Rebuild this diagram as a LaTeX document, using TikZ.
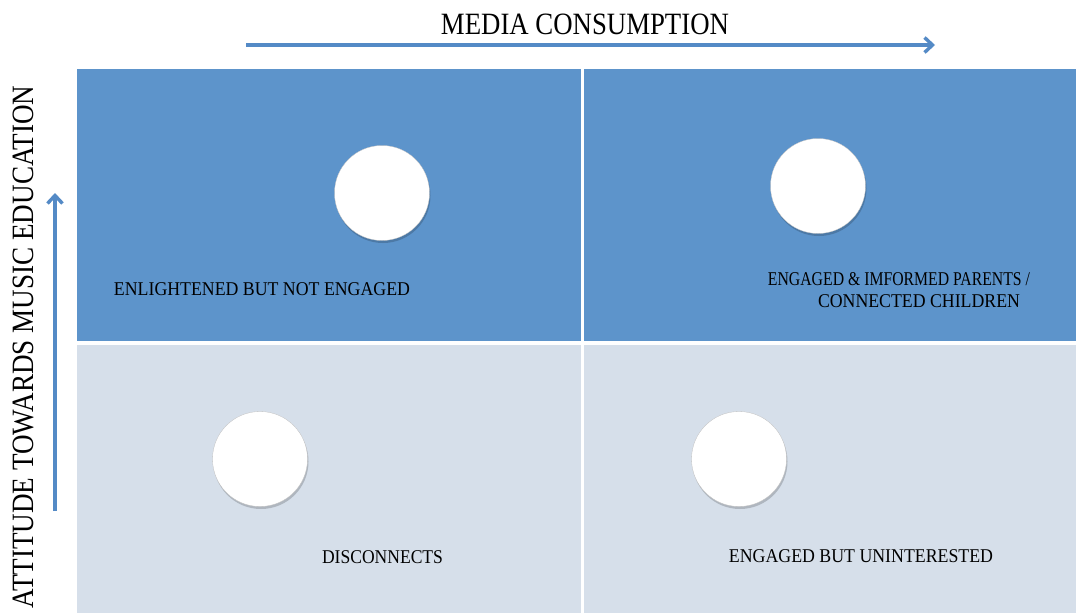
\documentclass[tikz,border=0pt]{standalone}
\usepackage{fontspec}
\setmainfont{Liberation Serif}
\usepackage{graphicx}
\usetikzlibrary{arrows.meta}
\definecolor{topblue}{RGB}{93,148,203}
\definecolor{lowblue}{RGB}{214,223,234}
\definecolor{arrowblue}{RGB}{84,138,198}
\newcommand{\fitw}[3]{\resizebox{#1}{\height}{\fontsize{#2}{#2}\selectfont #3}}
\begin{document}
\begin{tikzpicture}[x=1pt,y=-1pt,
  bubble/.style={circle,minimum size=95pt,inner sep=0pt,fill=white,draw=black!25,line width=0.3pt},
  bshadow/.style={circle,minimum size=95pt,inner sep=0pt,fill=black,opacity=0.18},
  lbl/.style={inner sep=0pt,text=black,anchor=center},
  axis/.style={draw=arrowblue,line width=3.4pt,-{Straight Barb[length=8pt,width=15pt]}}
]
\useasboundingbox (0,0) rectangle (1076,613);
\fill[white] (0,0) rectangle (1076,613);
% quadrants
\fill[topblue] (77,69) rectangle (581,341);
\fill[topblue] (584,69) rectangle (1076,341);
\fill[lowblue] (77,345) rectangle (581,613);
\fill[lowblue] (584,345) rectangle (1076,613);
% axes
\coordinate (hs) at (246,45);
\coordinate (he) at (935,45);
\coordinate (vs) at (55,511);
\coordinate (ve) at (55,193);
\draw[axis] (hs) -- (he);
\draw[axis] (vs) -- (ve);
\node[lbl] (title) at (585,24) {\fitw{288pt}{31}{MEDIA CONSUMPTION}};
\node[lbl,rotate=90] (ylab) at (23,347) {\fitw{523pt}{31}{ATTITUDE TOWARDS MUSIC EDUCATION}};
% bubbles
\foreach \n/\x/\y in {c1/382/193, c2/818/186, c3/260/459, c4/739/459}{
  \node[bshadow] at (\x+1,\y+2.5) {};
  \node[bubble] (\n) at (\x,\y) {};
}
% labels
\node[lbl] (q1) at (262,289) {\fitw{296pt}{19.5}{ENLIGHTENED BUT NOT ENGAGED}};
\node[lbl] (q2a) at (899,279) {\fitw{262pt}{19.5}{ENGAGED \& IMFORMED PARENTS /}};
\node[lbl] (q2b) at (919,301) {\fitw{202pt}{19.5}{CONNECTED CHILDREN}};
\node[lbl] (q3) at (382.5,557) {\fitw{121pt}{19.5}{DISCONNECTS}};
\node[lbl] (q4) at (861,556) {\fitw{264pt}{19.5}{ENGAGED BUT UNINTERESTED}};
\end{tikzpicture}
\end{document}
